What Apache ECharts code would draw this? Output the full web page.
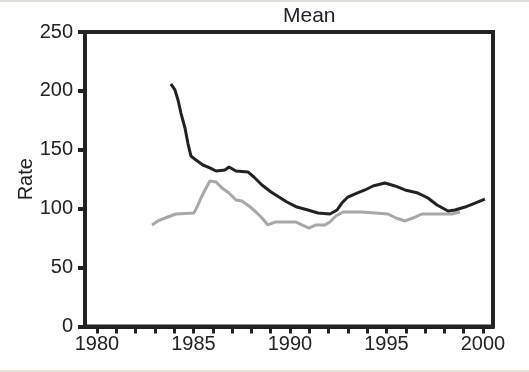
<!DOCTYPE html>
<html>
<head>
<meta charset="utf-8">
<script src="https://cdn.jsdelivr.net/npm/echarts@6/dist/echarts.min.js"></script>
<style>html,body{margin:0;padding:0;background:#fff;}#c{width:529px;height:372px;}</style>
</head>
<body>
<div id="c"></div>
<script>
// ---- data ----
const titleText = "Mean";
const yAxisName = "Rate";
const yTicks = [0, 50, 100, 150, 200, 250];
const xLabelYears = [1980, 1985, 1990, 1995, 2000];
const xTickYears = [1980,1981,1982,1983,1984,1985,1986,1987,1988,1989,1990,1991,1992,1993,1994,1995,1996,1997,1998,1999,2000];

const blackYears = [1983.83,1984.04,1984.2,1984.35,1984.56,1984.72,1984.87,1985.13,1985.49,1985.85,1986.17,1986.63,1986.84,1987.2,1987.82,1988.13,1988.55,1989.02,1989.43,1989.84,1990.36,1990.93,1991.45,1992.07,1992.44,1992.69,1993.0,1993.47,1993.89,1994.3,1994.92,1995.44,1995.96,1996.63,1997.15,1997.62,1998.19,1998.55,1999.07,1999.59,2000.1];
const blackValues = [205.9,200.8,192.3,181.2,168.5,154.9,144.7,141.3,137.1,134.6,132.0,132.9,135.4,132.0,131.2,126.9,120.1,114.2,109.9,105.7,101.4,98.9,96.4,95.5,98.9,104.8,109.9,113.3,115.9,119.3,121.8,119.3,115.9,113.3,109.1,103.1,98.0,98.9,101.4,104.8,108.2];

const grayYears = [1982.85,1983.16,1983.52,1984.09,1985.03,1985.23,1985.39,1985.6,1985.85,1986.17,1986.48,1986.84,1987.2,1987.51,1987.88,1988.24,1988.55,1988.86,1989.22,1990.31,1990.62,1990.98,1991.35,1991.81,1992.07,1992.38,1992.75,1993.73,1995.08,1995.49,1995.96,1996.37,1996.84,1998.39,1998.81];
const grayValues = [86.2,89.6,92.1,95.5,96.4,103.1,109.1,115.9,123.5,122.7,117.6,113.3,107.4,106.5,102.3,97.2,92.1,86.2,88.7,88.7,86.2,83.6,86.2,86.2,88.7,93.8,97.2,97.2,95.5,92.1,89.6,92.1,95.5,95.5,97.2];

const zip = (xs, ys) => xs.map((x, i) => [x, ys[i]]);

const ink = '#222226';
const chart = echarts.init(document.getElementById('c'), null, {renderer: 'canvas'});
chart.setOption({
  backgroundColor: '#ffffff',
  animation: false,
  textStyle: {fontFamily: 'Liberation Sans'},
  title: {
    text: titleText,
    left: 278, top: 1,
    textStyle: {fontSize: 21, fontWeight: 'normal', color: ink, fontFamily: 'Liberation Sans'}
  },
  graphic: [
    {type: 'rect', left: 0, top: 0, shape: {width: 529, height: 2}, style: {fill: '#e2dfd6'}, silent: true},
    {type: 'rect', left: 0, top: 370, shape: {width: 529, height: 2}, style: {fill: '#e6e4dc'}, silent: true}
  ],
  grid: {
    left: 85, right: 36, top: 32, bottom: 45.5,
    show: true, borderColor: ink, borderWidth: 4, backgroundColor: 'transparent'
  },
  xAxis: {
    type: 'value',
    min: 1979.38, max: 2000.52,
    axisLine: {show: true, lineStyle: {color: ink, width: 4}},
    axisTick: {show: true, customValues: xTickYears, length: 7, lineStyle: {color: ink, width: 3}},
    axisLabel: {
      customValues: xLabelYears, formatter: v => String(v),
      fontSize: 20, color: ink, margin: 8, fontFamily: 'Liberation Sans'
    },
    splitLine: {show: false}
  },
  yAxis: {
    type: 'value',
    min: yTicks[0], max: yTicks[yTicks.length - 1], interval: 50,
    name: yAxisName, nameLocation: 'middle', nameGap: 49, nameRotate: 90,
    nameMoveOverlap: false,
    nameTextStyle: {fontSize: 20, color: ink, fontFamily: 'Liberation Sans'},
    axisLine: {show: true, lineStyle: {color: ink, width: 4}},
    axisTick: {show: true, length: 7, lineStyle: {color: ink, width: 4}},
    axisLabel: {fontSize: 20, color: ink, margin: 12, fontFamily: 'Liberation Sans'},
    splitLine: {show: false}
  },
  series: [
    {
      name: 'Gray', type: 'line', data: zip(grayYears, grayValues),
      showSymbol: false, symbol: 'none',
      lineStyle: {color: '#a8a8aa', width: 3}, itemStyle: {color: '#a8a8aa'}
    },
    {
      name: 'Black', type: 'line', data: zip(blackYears, blackValues),
      showSymbol: false, symbol: 'none',
      lineStyle: {color: ink, width: 3}, itemStyle: {color: ink}
    }
  ]
});
</script>
</body>
</html>
